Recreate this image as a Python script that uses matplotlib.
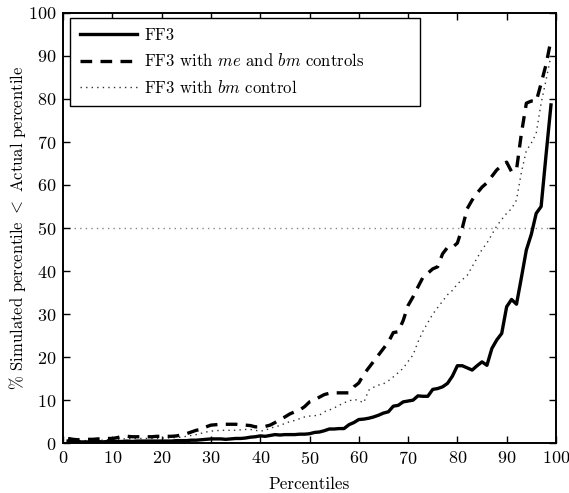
import matplotlib
matplotlib.use("Agg")
import matplotlib.pyplot as plt
import numpy as np

plt.rcParams['font.family'] = 'serif'
plt.rcParams['font.serif'] = ['cmr10']
plt.rcParams['mathtext.fontset'] = 'cm'
plt.rcParams['axes.formatter.use_mathtext'] = True
plt.rcParams['font.size'] = 12

percentiles = list(range(1, 100))

ff3 = [0.5, 0.4, 0.3, 0.3, 0.3, 0.3, 0.4, 0.3, 0.4, 0.5,
       0.4, 0.4, 0.5, 0.4, 0.5, 0.5, 0.5, 0.5, 0.5, 0.5,
       0.5, 0.5, 0.6, 0.6, 0.6, 0.7, 0.7, 0.8, 0.9, 1.0,
       1.0, 1.0, 0.9, 1.0, 1.1, 1.1, 1.2, 1.4, 1.5, 1.7,
       1.6, 1.8, 2.0, 1.9, 2.0, 2.0, 2.0, 2.1, 2.1, 2.2,
       2.5, 2.6, 2.9, 3.3, 3.3, 3.4, 3.4, 4.3, 4.8, 5.5,
       5.6, 5.8, 6.1, 6.5, 7.0, 7.3, 8.6, 8.8, 9.6, 9.8,
       10.0, 11.0, 10.9, 10.9, 12.5, 12.7, 13.1, 13.9, 15.6, 18.0,
       18.0, 17.5, 17.0, 18.0, 18.9, 18.1, 22.0, 24.0, 25.5, 31.7,
       33.4, 32.3, 38.5, 44.9, 48.5, 53.4, 55.0, 67.0, 78.6]

ff3_me_bm = [1.1, 0.9, 0.8, 0.9, 0.9, 0.9, 1.0, 1.0, 1.1, 1.1,
             1.3, 1.6, 1.6, 1.5, 1.5, 1.5, 1.5, 1.5, 1.6, 1.6,
             1.6, 1.6, 1.7, 1.9, 2.2, 2.6, 3.0, 3.2, 3.8, 4.2,
             4.3, 4.4, 4.4, 4.4, 4.4, 4.3, 4.2, 4.1, 3.8, 3.8,
             3.9, 4.2, 4.8, 5.5, 6.1, 6.8, 7.3, 7.7, 8.5, 9.6,
             10.0, 10.7, 11.3, 11.6, 11.7, 11.7, 11.7, 11.7, 13.1, 14.0,
             16.0, 17.5, 19.0, 20.5, 22.0, 23.5, 25.7, 25.9, 28.5, 32.0,
             34.0, 36.3, 38.5, 39.5, 40.5, 41.0, 44.0, 45.5, 45.5, 46.5,
             50.0, 54.5, 56.5, 58.1, 59.5, 60.5, 62.0, 63.5, 64.5, 65.3,
             63.1, 63.5, 72.0, 79.0, 79.5, 79.4, 83.6, 88.0, 93.7]

ff3_bm = [0.8, 0.7, 0.6, 0.6, 0.6, 0.7, 0.7, 0.7, 0.8, 0.8,
          0.9, 1.0, 1.0, 1.1, 1.1, 1.1, 1.1, 1.1, 1.1, 1.2,
          1.2, 1.3, 1.3, 1.4, 1.6, 1.8, 2.0, 2.3, 2.6, 2.8,
          2.9, 3.0, 3.0, 3.0, 3.0, 3.1, 3.2, 3.2, 3.0, 2.8,
          3.0, 3.5, 3.8, 4.1, 4.6, 5.0, 5.3, 5.7, 6.1, 6.3,
          6.4, 6.5, 7.3, 7.7, 8.2, 8.8, 9.4, 9.8, 10.2, 9.9,
          9.4, 12.3, 13.0, 13.5, 13.8, 14.5, 15.4, 16.4, 17.4, 19.0,
          20.5, 23.5, 26.0, 28.0, 30.0, 31.5, 33.0, 34.5, 35.5, 37.0,
          38.0, 39.0, 41.0, 43.0, 45.0, 46.5, 48.5, 50.5, 52.0, 53.4,
          54.5, 56.5, 63.0, 68.0, 69.7, 72.0, 79.0, 84.4, 90.0]

reference_level = 50
labels = ['FF3', r'FF3 with $me$ and $bm$ controls', r'FF3 with $bm$ control']

fig = plt.figure(figsize=(5.69, 4.93), dpi=100)
ax = fig.add_axes([0.111, 0.101, 0.866, 0.873])

ax.axhline(reference_level, color='#888888', linestyle=(0, (1, 3)), linewidth=1.0, zorder=1)
ax.plot(percentiles, ff3, color='black', linewidth=2.4, linestyle='-', label=labels[0], zorder=3)
ax.plot(percentiles, ff3_me_bm, color='black', linewidth=2.4, linestyle=(0, (3.5, 2.5)), label=labels[1], zorder=3)
ax.plot(percentiles, ff3_bm, color='#333333', linewidth=1.0, linestyle=(0, (1, 3)), label=labels[2], zorder=2)

ax.set_xlim(0, 100)
ax.set_ylim(0, 100)
ax.set_xticks(np.arange(0, 101, 10))
ax.set_yticks(np.arange(0, 101, 10))
ax.tick_params(direction='in', top=True, right=True, length=5, width=1, labelsize=13, pad=5)
for s in ax.spines.values():
    s.set_linewidth(1.4)

ax.set_xlabel('Percentiles', fontsize=12.3, labelpad=7)
ax.set_ylabel(r'$\%$ Simulated percentile $<$ Actual percentile', fontsize=12, labelpad=0)

leg = ax.legend(loc='upper left', bbox_to_anchor=(0.0142, 0.784, 0.71, 0.204), mode='expand',
                fancybox=False, edgecolor='black', framealpha=1,
                handlelength=3.4, handletextpad=0.45, fontsize=12, borderaxespad=0.0,
                borderpad=0.6, labelspacing=0.55)
leg.get_frame().set_linewidth(1.0)

fig.savefig('out.png', dpi=100)
